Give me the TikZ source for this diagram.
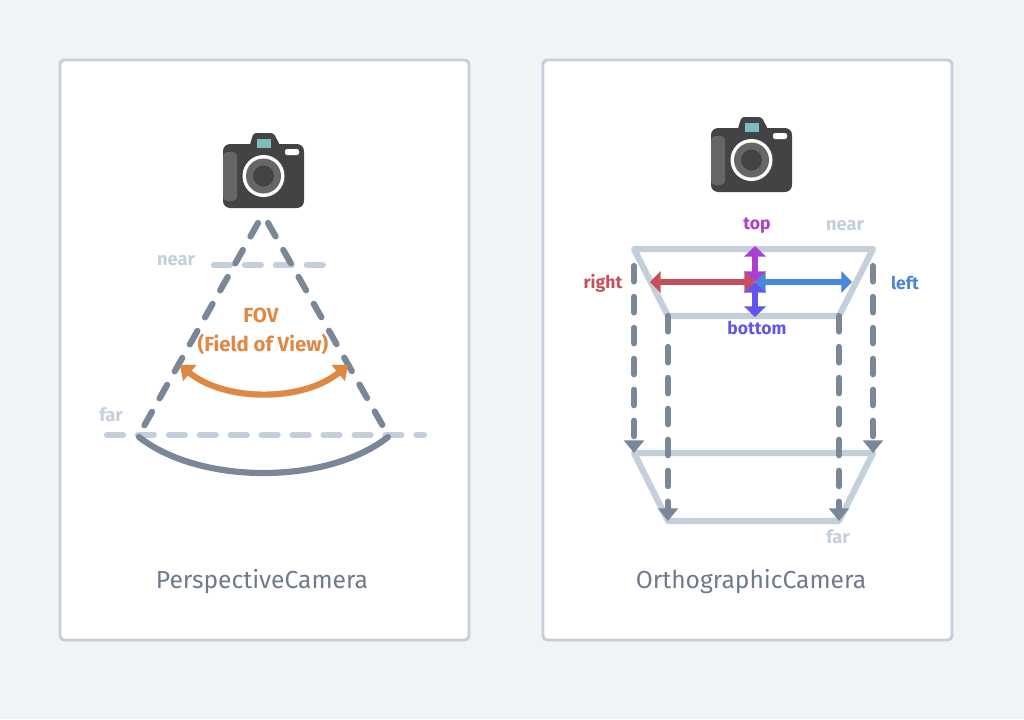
\documentclass[tikz,border=0pt]{standalone}
\usepackage{fontspec}
\setmainfont{Fira Sans}
\usetikzlibrary{arrows.meta}

\definecolor{pagebg}{HTML}{F0F4F7}
\definecolor{lightline}{HTML}{C5CFDC}
\definecolor{darkline}{HTML}{7A8799}
\definecolor{captiontext}{HTML}{6E7B8C}
\definecolor{fovorange}{HTML}{E08744}
\definecolor{rightred}{HTML}{C5505C}
\definecolor{leftblue}{HTML}{4A87D8}
\definecolor{toppurple}{HTML}{AD3FCF}
\definecolor{bottomindigo}{HTML}{6355EA}
\definecolor{cambody}{HTML}{434343}
\definecolor{camgrey}{HTML}{666666}
\definecolor{camteal}{HTML}{7FBDBD}

\tikzset{
    card/.style={draw=lightline,fill=white,line width=2.1pt,rounded corners=3pt},
    caption/.style={text=captiontext,font=\fontsize{17.5}{20}\selectfont},
    planelabel/.style={text=lightline,font=\fontsize{13}{15}\selectfont\bfseries},
    sidelabel/.style={font=\fontsize{12.5}{15}\selectfont\bfseries},
    fovlabel/.style={text=fovorange,font=\fontsize{14.5}{17}\selectfont\bfseries},
    frustum/.style={draw=lightline,line width=4.4pt,line join=round,line cap=round},
    lightdash/.style={draw=lightline,line width=4.4pt,line cap=round,dash pattern=on 11.4pt off 10.6pt},
    darkdash/.style={draw=darkline,line width=4.4pt,line cap=round,dash pattern=on 11pt off 11pt},
    droparrow/.style={darkdash,-{Triangle[length=9pt,width=14pt]}},
    sizearrow/.style={line width=4.4pt,{Triangle[length=7.5pt,width=15pt]}-{Triangle[length=7.5pt,width=15pt]}},
    camera/.pic={
        \fill[cambody,rounded corners=5pt] (-40.5,-32) rectangle (40.5,32);
        \fill[cambody,rounded corners=2pt] (-14,-30) -- (-10,-43) -- (10,-43) -- (17,-30) -- cycle;
        \fill[camteal] (-6.5,-37) rectangle (7.5,-28);
        \fill[white,rounded corners=1.5pt] (21.5,-27) rectangle (35.5,-21);
        \fill[camgrey,rounded corners=3pt] (-40.5,-24) rectangle (-26.5,25);
        \fill[white] (0,0) circle (21);
        \fill[camgrey] (0,0) circle (17.5);
        \fill[cambody] (0,0) circle (10.5);
    }
}

\begin{document}
\begin{tikzpicture}[x=0.025cm,y=-0.025cm]
    \fill[pagebg] (0,0) rectangle (1024,719);
    \useasboundingbox (0,0) rectangle (1024,719);

    % perspective side
    \begin{scope}
        \draw[card] (60,60) rectangle (469,640);
        \pic at (263.5,176) {camera};

        \coordinate (apexL) at (258,223);
        \coordinate (apexR) at (268,223);
        \coordinate (farL) at (139,435);
        \coordinate (farR) at (388,435);
        \coordinate (farA) at (107,435);
        \coordinate (farB) at (424,435);
        \coordinate (nearA) at (214,265);
        \coordinate (nearB) at (323,265);
        \coordinate (arcL) at (139,437);
        \coordinate (arcR) at (388,437);
        \coordinate (fovL) at (180,365);
        \coordinate (fovR) at (348,365);

        \draw[lightdash] (nearA) -- (nearB);
        \draw[lightdash] (farA) -- (farB);
        \draw[darkdash] (apexL) -- (farL);
        \draw[darkdash] (apexR) -- (farR);
        \draw[darkline,line width=4.4pt,line cap=round] (arcL) .. controls (200,485) and (327,485) .. (arcR);
        \draw[fovorange,line width=4.4pt,{Triangle[length=9pt,width=14.5pt]}-{Triangle[length=9pt,width=14.5pt]}]
            (fovL) .. controls (225,402) and (303,402) .. (fovR);

        \node[planelabel] (nearP) at (176,261) {near};
        \node[planelabel] (farP) at (111,415) {far};
        \node[fovlabel] (fovtitle) at (261,315) {FOV};
        \node[fovlabel] (fovtext) at (263,344) {(Field of View)};
        \node[caption] (perspective) at (262,582) {PerspectiveCamera};
    \end{scope}

    % orthographic side
    \begin{scope}
        \draw[card] (543,60) rectangle (952,640);
        \pic at (751.5,160) {camera};

        \coordinate (nearTL) at (634,249);
        \coordinate (nearTR) at (873,249);
        \coordinate (nearBR) at (839,316);
        \coordinate (nearBL) at (668,316);
        \coordinate (farTL) at (634,453);
        \coordinate (farTR) at (873,453);
        \coordinate (farBR) at (839,521);
        \coordinate (farBL) at (668,521);
        \coordinate (dropL) at (634,266);
        \coordinate (dropR) at (873,266);
        \coordinate (center) at (755,282);
        \coordinate (toRight) at (650,282);
        \coordinate (toLeft) at (852,282);
        \coordinate (toTop) at (755,246);
        \coordinate (toBottom) at (755,317);

        \draw[frustum] (nearTL) -- (nearTR) -- (nearBR) -- (nearBL) -- cycle;
        \draw[frustum] (farTL) -- (farTR) -- (farBR) -- (farBL) -- cycle;
        \draw[droparrow] (dropL) -- (farTL);
        \draw[droparrow] (dropR) -- (farTR);
        \draw[droparrow] (nearBL) -- (farBL);
        \draw[droparrow] (nearBR) -- (farBR);

        \draw[sizearrow,leftblue] (center) -- (toLeft);
        \draw[sizearrow,rightred] (center) -- (toRight);
        \draw[sizearrow,toppurple] (center) -- (toTop);
        \draw[sizearrow,bottomindigo] (center) -- (toBottom);

        \node[sidelabel,text=toppurple] (topL) at (757,226) {top};
        \node[planelabel] (nearQ) at (845,226) {near};
        \node[sidelabel,text=rightred] (rightL) at (603,283) {right};
        \node[sidelabel,text=leftblue] (leftL) at (905,283) {left};
        \node[sidelabel,text=bottomindigo] (bottomL) at (757,328) {bottom};
        \node[planelabel] (farQ) at (838,537) {far};
        \node[caption] (orthographic) at (751,582) {OrthographicCamera};
    \end{scope}
\end{tikzpicture}
\end{document}
